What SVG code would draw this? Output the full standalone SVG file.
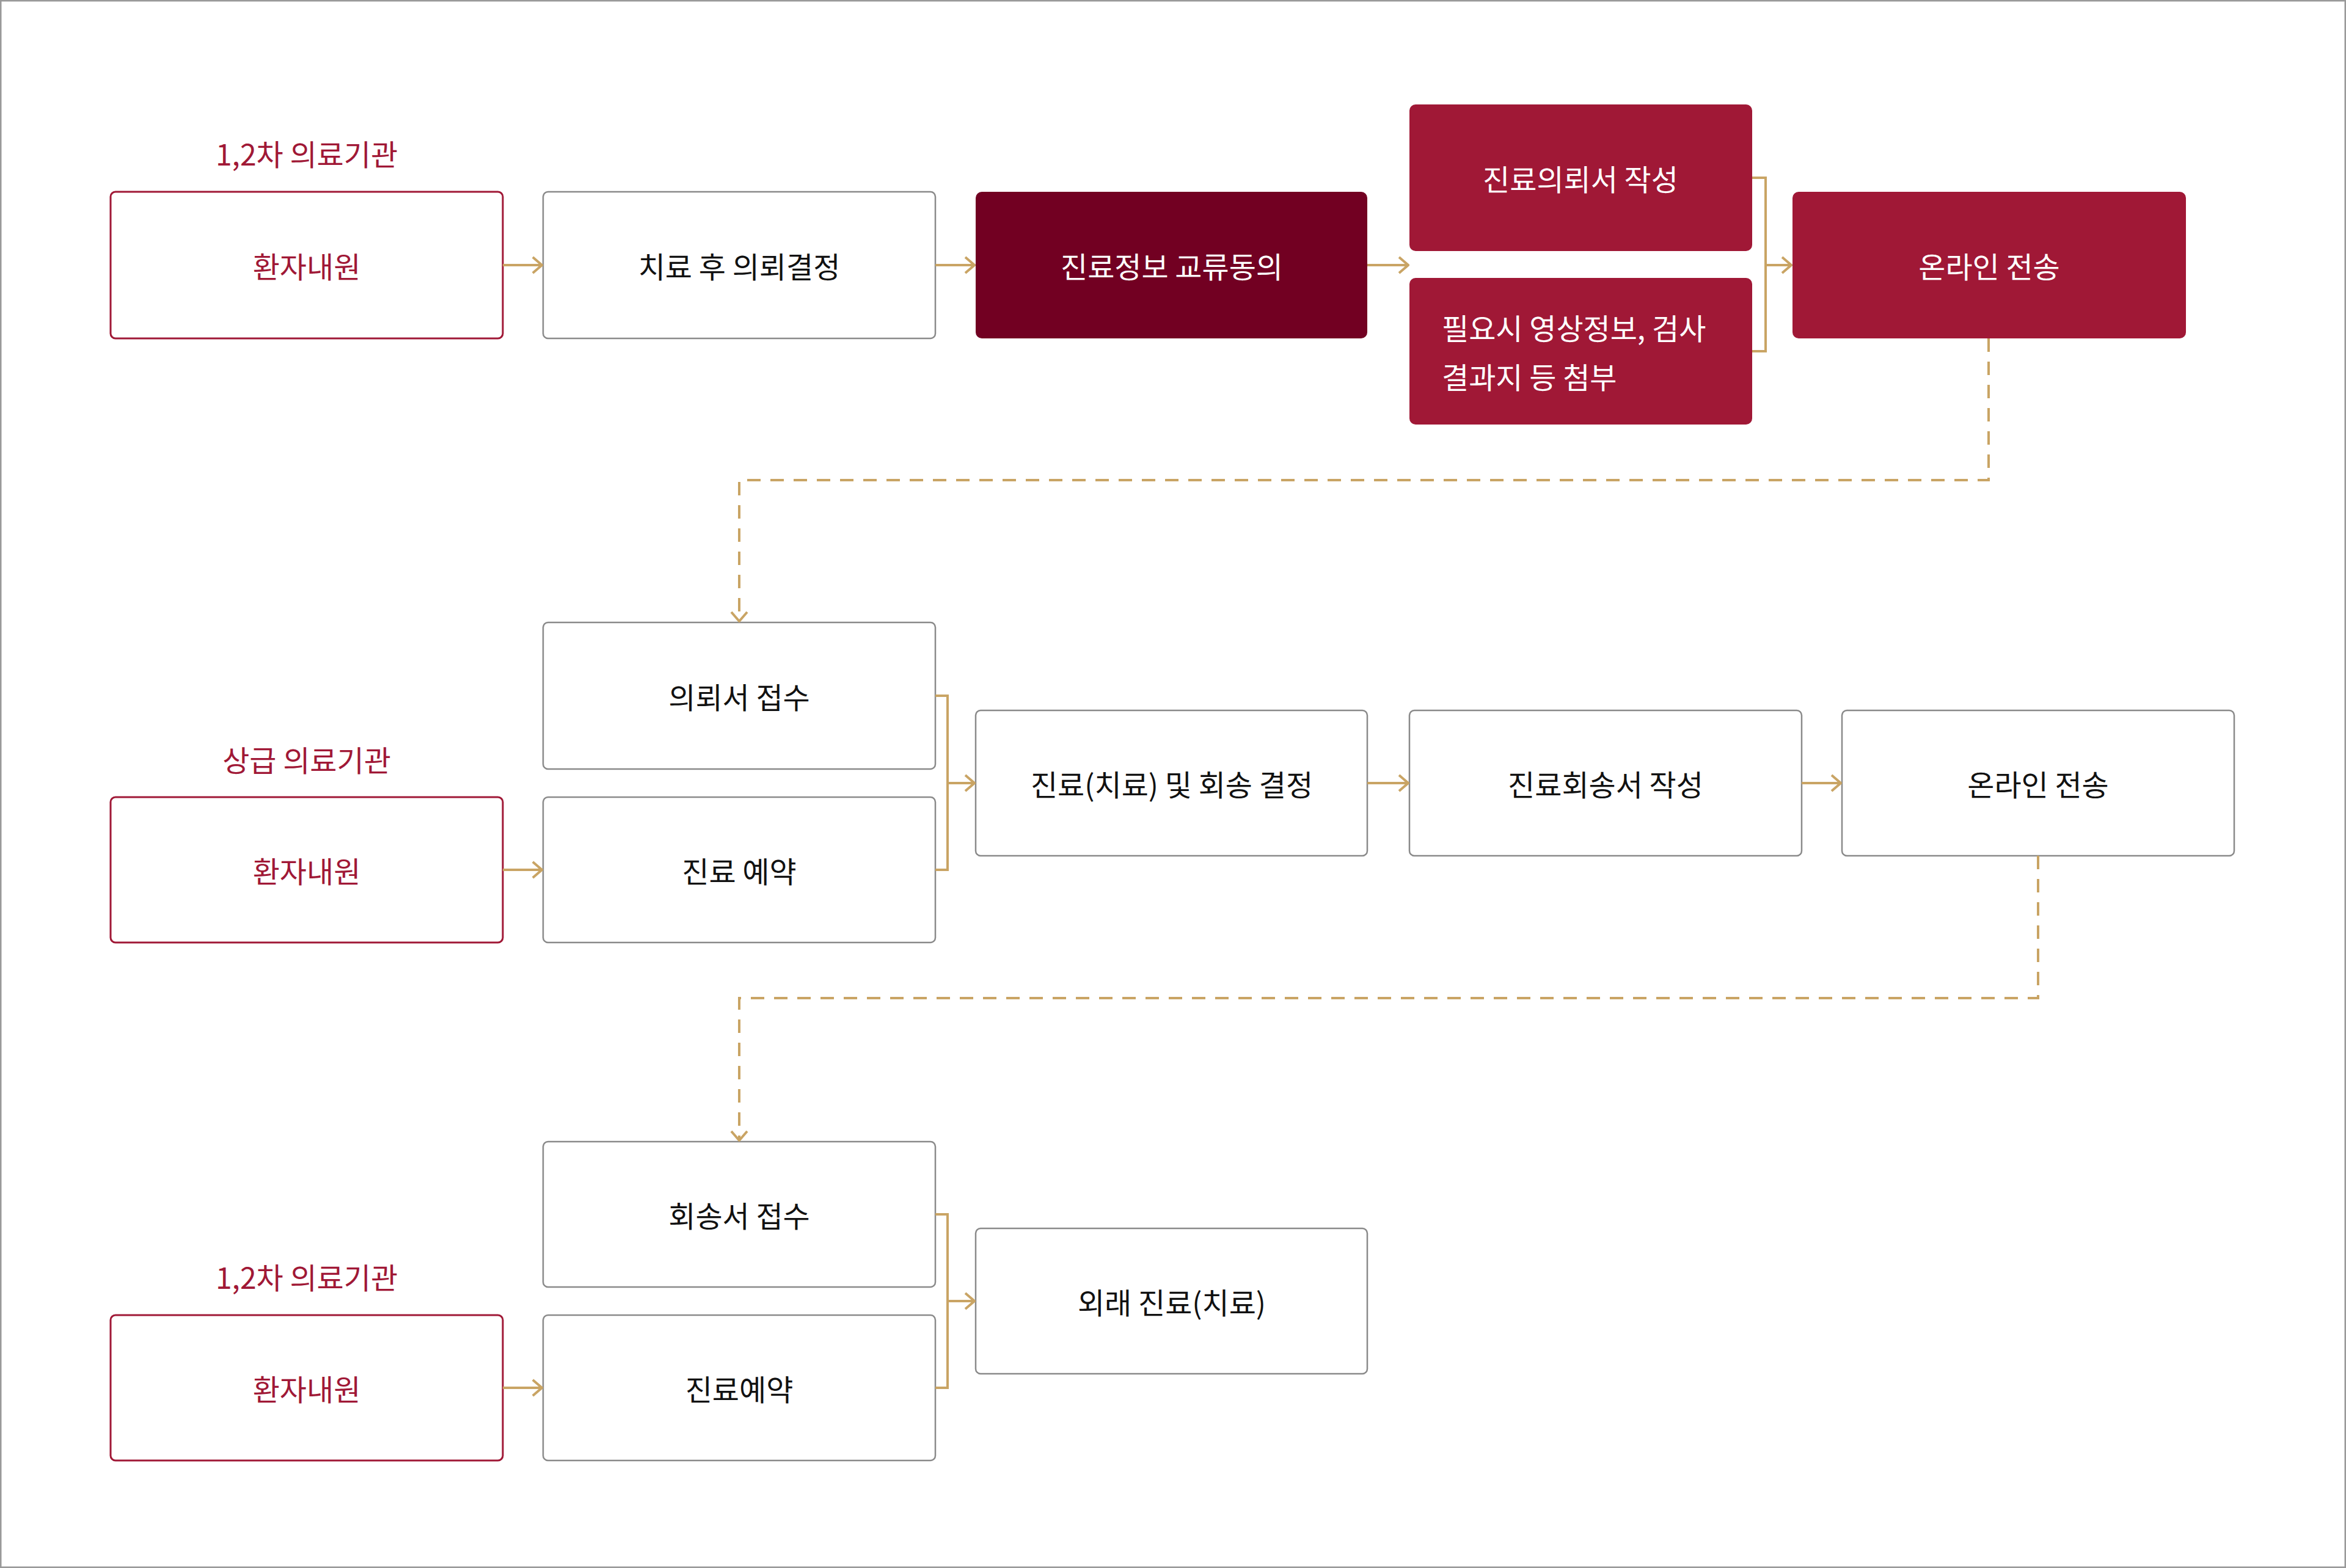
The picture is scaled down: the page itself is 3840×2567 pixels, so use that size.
<svg xmlns="http://www.w3.org/2000/svg" width="3840" height="2567" viewBox="0 0 3840 2567">
<style>
text{font-family:"Noto Sans CJK KR","Noto Sans",sans-serif;font-size:48px;text-anchor:middle;dominant-baseline:central}
.w{fill:#fff;stroke:#8a8a8a;stroke-width:2.5}
.p{fill:#fff;stroke:#a01836;stroke-width:3}
.dk{fill:#720022}
.rd{fill:#a01836}
.t{fill:#111}
.tr{fill:#a01836}
.tw{fill:#fff}
.c{fill:none;stroke:#c9a464;stroke-width:4}
.d{fill:none;stroke:#c9a464;stroke-width:4;stroke-dasharray:22 16}
</style>
<defs><marker id="a" viewBox="0 0 20 30" refX="18" refY="15" markerWidth="20" markerHeight="30" markerUnits="userSpaceOnUse" orient="auto"><path d="M3 2L18 15L3 28" fill="none" stroke="#c9a464" stroke-width="4"/></marker></defs>
<rect x="1" y="1" width="3838" height="2565" fill="#fff" stroke="#999" stroke-width="3"/>
<text class="tr" x="502" y="250">1,2차 의료기관</text>
<text class="tr" x="502" y="1242">상급 의료기관</text>
<text class="tr" x="502" y="2089">1,2차 의료기관</text>
<g id="n1"><rect class="p" x="181" y="314" width="642" height="240" rx="8"/><text class="tr" x="502" y="434">환자내원</text></g>
<g id="n2"><rect class="w" x="889" y="314" width="642" height="240" rx="8"/><text class="t" x="1210" y="434">치료 후 의뢰결정</text></g>
<g id="n3"><rect class="dk" x="1597" y="314" width="641" height="240" rx="10"/><text class="tw" x="1918" y="434">진료정보 교류동의</text></g>
<g id="n4"><rect class="rd" x="2307" y="171" width="561" height="240" rx="10"/><text class="tw" x="2587" y="291">진료의뢰서 작성</text></g>
<g id="n5"><rect class="rd" x="2307" y="455" width="561" height="240" rx="10"/><text class="tw" x="2360" y="535" style="text-anchor:start">필요시 영상정보, 검사</text><text class="tw" x="2360" y="615" style="text-anchor:start">결과지 등 첨부</text></g>
<g id="n6"><rect class="rd" x="2934" y="314" width="644" height="240" rx="10"/><text class="tw" x="3256" y="434">온라인 전송</text></g>
<g id="n7"><rect class="w" x="889" y="1019" width="642" height="240" rx="8"/><text class="t" x="1210" y="1139">의뢰서 접수</text></g>
<g id="n8"><rect class="p" x="181" y="1305" width="642" height="238" rx="8"/><text class="tr" x="502" y="1424">환자내원</text></g>
<g id="n9"><rect class="w" x="889" y="1305" width="642" height="238" rx="8"/><text class="t" x="1210" y="1424">진료 예약</text></g>
<g id="n10"><rect class="w" x="1597" y="1163" width="641" height="238" rx="8"/><text class="t" x="1918" y="1282">진료(치료) 및 회송 결정</text></g>
<g id="n11"><rect class="w" x="2307" y="1163" width="642" height="238" rx="8"/><text class="t" x="2628" y="1282">진료회송서 작성</text></g>
<g id="n12"><rect class="w" x="3015" y="1163" width="642" height="238" rx="8"/><text class="t" x="3336" y="1282">온라인 전송</text></g>
<g id="n13"><rect class="w" x="889" y="1869" width="642" height="238" rx="8"/><text class="t" x="1210" y="1988">회송서 접수</text></g>
<g id="n14"><rect class="p" x="181" y="2153" width="642" height="238" rx="8"/><text class="tr" x="502" y="2272">환자내원</text></g>
<g id="n15"><rect class="w" x="889" y="2153" width="642" height="238" rx="8"/><text class="t" x="1210" y="2272">진료예약</text></g>
<g id="n16"><rect class="w" x="1597" y="2011" width="641" height="238" rx="8"/><text class="t" x="1918" y="2130">외래 진료(치료)</text></g>
<g id="connectors">
<path class="c" d="M823 434H887" marker-end="url(#a)"/>
<path class="c" d="M1531 434H1595" marker-end="url(#a)"/>
<path class="c" d="M2238 434H2305" marker-end="url(#a)"/>
<path class="c" d="M2868 291H2890V575H2868M2890 434H2932" marker-end="url(#a)"/>
<path class="d" d="M3255 554V786H1210V1017" marker-end="url(#a)"/>
<path class="c" d="M1531 1139H1551V1424H1531M1551 1282H1595" marker-end="url(#a)"/>
<path class="c" d="M823 1424H887" marker-end="url(#a)"/>
<path class="c" d="M2238 1282H2305" marker-end="url(#a)"/>
<path class="c" d="M2949 1282H3013" marker-end="url(#a)"/>
<path class="d" d="M3336 1401V1634H1210V1867" marker-end="url(#a)"/>
<path class="c" d="M1531 1988H1551V2272H1531M1551 2130H1595" marker-end="url(#a)"/>
<path class="c" d="M823 2272H887" marker-end="url(#a)"/>
</g>
</svg>
